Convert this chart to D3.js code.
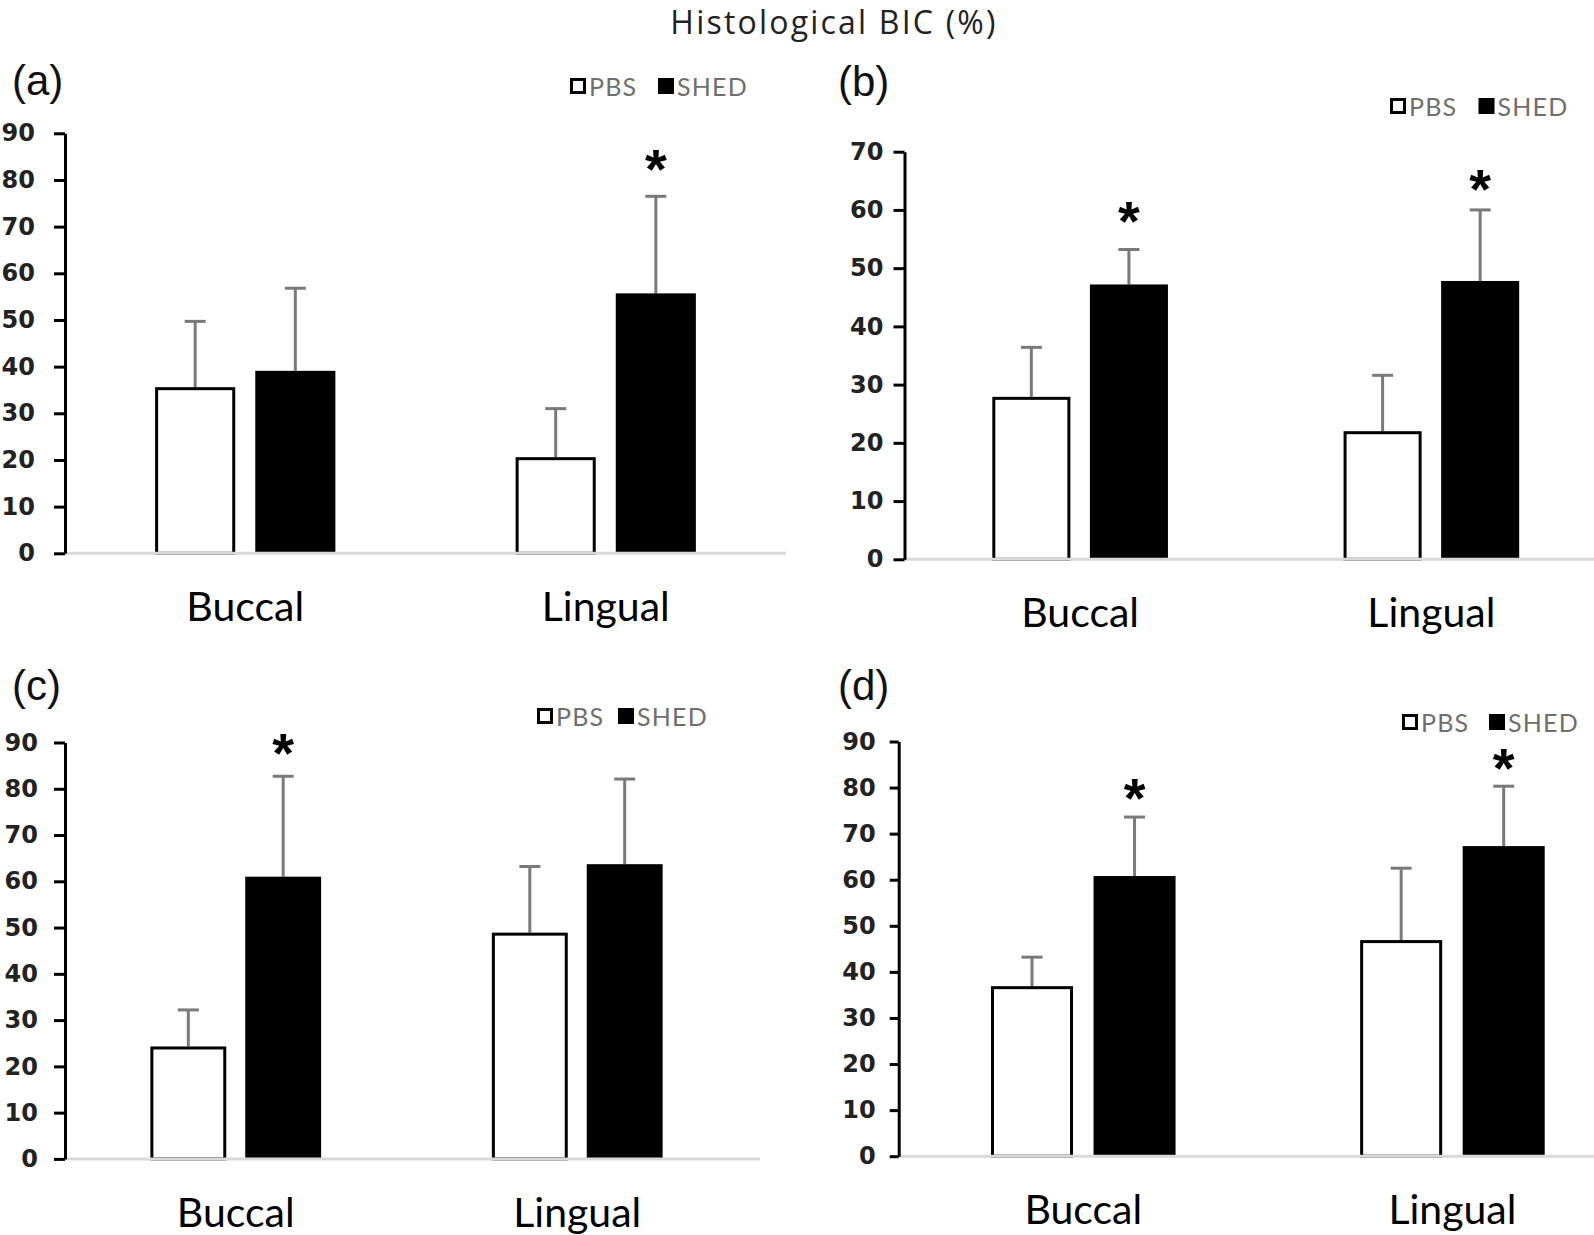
<!DOCTYPE html>
<html><head><meta charset="utf-8">
<script src="https://cdn.jsdelivr.net/npm/d3@7"></script>
<style>body{margin:0;background:#fff}svg{display:block}</style>
</head><body><svg id="chart" width="1594" height="1235"></svg>
<script>
// ---------- data ----------
const title = "Histological BIC (%)";
const categories = ["Buccal", "Lingual"];
const series = ["PBS", "SHED"];
const panelLabels = ["(a)", "(b)", "(c)", "(d)"];
const yMaxes = [90, 70, 90, 90];
const yStep = 10;
// mean values [panel][category]
const pbsMean  = [[35.6, 20.6], [27.9, 22.0], [24.3, 48.9], [36.9, 46.9]];
const shedMean = [[39.1, 55.7], [47.2, 47.8], [61.0, 63.7], [60.8, 67.3]];
// standard deviation (upper error bar) [panel][category]
const pbsSD  = [[14.1, 10.4], [8.5, 9.6], [7.9, 14.3], [6.3, 15.6]];
const shedSD = [[17.7, 20.8], [6.0, 12.2], [21.7, 18.4], [12.8, 13.0]];
// significance markers (value where the * sits), null = none
const pbsStar  = [[null, null], [null, null], [null, null], [null, null]];
const shedStar = [[null, 84.0], [59.3, 64.9], [89.4, null], [79.4, 85.8]];

// ---------- layout ----------
const layout = [
  {ax: 65,    x1: 786,  base: 786,  y0: 553.3,  yTop: 133.3, lab: [12, 95],   leg: [570, 78],   legGap: 88,   pad: 19, tick: 11},
  {ax: 904.5, x1: 1607, base: 1607, y0: 559.3,  yTop: 151.7, lab: [838, 96],  leg: [1390, 98],  legGap: 88.5, pad: 10, tick: 11},
  {ax: 65,    x1: 748,  base: 760,  y0: 1158.9, yTop: 742.5, lab: [12, 700],  leg: [537, 708],  legGap: 81,   pad: 16, tick: 11},
  {ax: 898.7, x1: 1637, base: 1637, y0: 1156.2, yTop: 741.5, lab: [838, 700], leg: [1402, 714], legGap: 87,   pad: 14, tick: 9}
];

const svg = d3.select("#chart");
const calibriLike = "Lato, 'Open Sans', sans-serif";

svg.append("text").attr("x", 834).attr("y", 34).attr("text-anchor", "middle")
  .style("font-family", "'Open Sans', sans-serif").style("font-size", "32px")
  .style("letter-spacing", "2.2px").attr("fill", "#222")
  .text(title);

layout.forEach((L, p) => {
  const g = svg.append("g");
  const y = d3.scaleLinear().domain([0, yMaxes[p]]).range([L.y0, L.yTop]);
  const x0 = d3.scaleBand().domain(categories).range([L.ax, L.x1]).padding(0);
  const bw = x0.bandwidth();
  const x1 = d3.scaleBand().domain(series).range([bw * 0.25, bw * 0.75]).paddingInner(0.2);

  const rows = [];
  categories.forEach((c, ci) => {
    rows.push({cat: c, ser: "PBS",  v: pbsMean[p][ci],  sd: pbsSD[p][ci],  star: pbsStar[p][ci]});
    rows.push({cat: c, ser: "SHED", v: shedMean[p][ci], sd: shedSD[p][ci], star: shedStar[p][ci]});
  });
  const cx = d => x0(d.cat) + x1(d.ser) + x1.bandwidth() / 2;

  // error bars (upper only)
  const eb = g.append("g").attr("stroke", "#7a7a7a").attr("stroke-width", 3);
  eb.selectAll("line.v").data(rows).join("line")
    .attr("x1", cx).attr("x2", cx)
    .attr("y1", d => y(d.v)).attr("y2", d => y(d.v + d.sd));
  eb.selectAll("line.c").data(rows).join("line")
    .attr("x1", d => cx(d) - 10.5).attr("x2", d => cx(d) + 10.5)
    .attr("y1", d => y(d.v + d.sd)).attr("y2", d => y(d.v + d.sd));

  // bars
  g.append("g").selectAll("rect").data(rows).join("rect")
    .attr("x", d => x0(d.cat) + x1(d.ser) + (d.ser === "PBS" ? 1.5 : 0))
    .attr("width", d => x1.bandwidth() - (d.ser === "PBS" ? 3 : 0))
    .attr("y", d => y(d.v) + (d.ser === "PBS" ? 1.5 : 0))
    .attr("height", d => L.y0 - y(d.v) - (d.ser === "PBS" ? 1.5 : 0))
    .attr("fill", d => d.ser === "PBS" ? "#fff" : "#000")
    .attr("stroke", "#000").attr("stroke-width", d => d.ser === "PBS" ? 3 : 0);

  // baseline
  g.append("line").attr("x1", L.ax).attr("x2", L.base).attr("y1", L.y0).attr("y2", L.y0)
    .attr("stroke", "#d9d9d9").attr("stroke-width", 3);

  // y axis
  const ya = g.append("g").attr("transform", `translate(${L.ax},0)`)
    .call(d3.axisLeft(y).tickValues(d3.range(0, yMaxes[p] + 1, yStep))
      .tickSize(L.tick).tickSizeOuter(0).tickPadding(L.pad));
  ya.select(".domain").attr("stroke", "#000").attr("stroke-width", 3);
  ya.selectAll(".tick line").attr("stroke", "#000").attr("stroke-width", 3);
  ya.selectAll(".tick text").attr("fill", "#222")
    .style("font-family", "'DejaVu Sans', sans-serif").style("font-size", "24px").style("font-weight", "bold");

  // stars
  const starFs = 56;
  g.selectAll("text.star").data(rows.filter(d => d.star != null)).join("text")
    .attr("x", cx).attr("y", d => y(d.star) + starFs * 0.47)
    .attr("text-anchor", "middle")
    .style("font-family", "'Liberation Sans', Arial, sans-serif").style("font-size", starFs + "px")
    .style("font-weight", "bold").attr("fill", "#000").text("*");

  // category labels
  g.selectAll("text.cat").data(categories).join("text")
    .attr("x", c => x0(c) + bw / 2).attr("y", L.y0 + 68).attr("text-anchor", "middle")
    .style("font-family", calibriLike).style("font-size", "41px").attr("fill", "#000").text(c => c);

  // panel label
  g.append("text").attr("x", L.lab[0]).attr("y", L.lab[1])
    .style("font-family", "'Liberation Sans', Arial, sans-serif").style("font-size", "42px")
    .attr("fill", "#111").text(panelLabels[p]);

  // legend
  const lg = g.append("g").attr("transform", `translate(${L.leg[0]},${L.leg[1]})`);
  series.forEach((s, i) => {
    const ox = i * L.legGap;
    lg.append("rect").attr("x", ox + 1.5).attr("y", 1.5).attr("width", 13).attr("height", 13)
      .attr("fill", s === "PBS" ? "#fff" : "#000").attr("stroke", "#000").attr("stroke-width", 3);
    lg.append("text").attr("x", ox + 19).attr("y", 18)
      .style("font-family", calibriLike).style("font-size", "25px").style("letter-spacing", "1.2px")
      .attr("fill", "#6f6f6f").text(s);
  });
});
</script>
</body></html>
